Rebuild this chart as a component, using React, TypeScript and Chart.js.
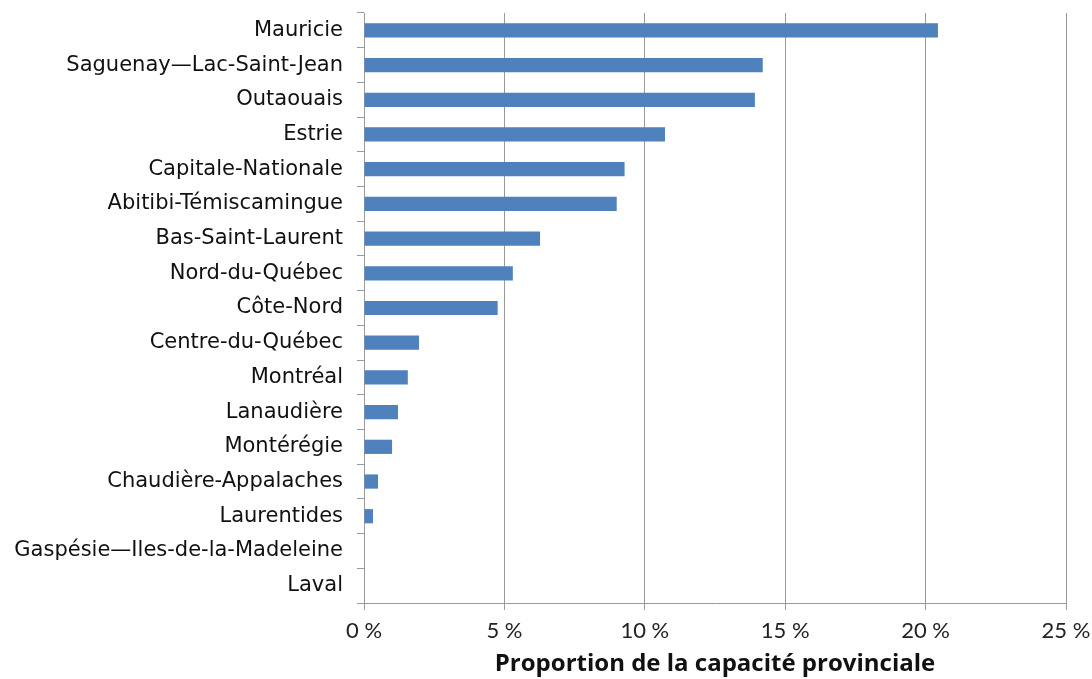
import React, { useEffect, useRef } from "react";
import { Chart, registerables } from "chart.js";

Chart.register(...registerables);

const categories = [
  "Mauricie",
  "Saguenay—Lac-Saint-Jean",
  "Outaouais",
  "Estrie",
  "Capitale-Nationale",
  "Abitibi-Témiscamingue",
  "Bas-Saint-Laurent",
  "Nord-du-Québec",
  "Côte-Nord",
  "Centre-du-Québec",
  "Montréal",
  "Lanaudière",
  "Montérégie",
  "Chaudière-Appalaches",
  "Laurentides",
  "Gaspésie—Iles-de-la-Madeleine",
  "Laval",
];

const values = [20.44, 14.2, 13.92, 10.72, 9.28, 9.0, 6.27, 5.3, 4.76, 1.96, 1.56, 1.21, 1.0, 0.5, 0.32, 0, 0];

const xTicks = [0, 5, 10, 15, 20, 25];
const xTitle = "Proportion de la capacité provinciale";

export default function App() {
  const ref = useRef<HTMLCanvasElement>(null);
  useEffect(() => {
    document.body.style.margin = "0";
    const ctx = ref.current!;
    const chart = new Chart(ctx, {
      type: "bar",
      data: {
        labels: categories,
        datasets: [
          {
            data: values,
            backgroundColor: "#4F81BD",
            borderWidth: 0,
            categoryPercentage: 1,
            barPercentage: 0.41,
          },
        ],
      },
      options: {
        indexAxis: "y",
        animation: false,
        responsive: false,
        maintainAspectRatio: false,
        layout: { padding: { top: 13, right: 26, left: 0, bottom: 0 } },
        plugins: { legend: { display: false }, tooltip: { enabled: false } },
        scales: {
          x: {
            min: 0,
            max: 25,
            afterBuildTicks: (scale: any) => {
              scale.ticks = xTicks.map((v) => ({ value: v }));
            },
            afterFit: (scale: any) => {
              scale.height = 76;
              scale.paddingLeft = 0;
              scale.paddingRight = 0;
            },
            grid: {
              color: "#9a9a9a",
              lineWidth: 1,
              tickLength: 7,
              drawTicks: true,
            },
            border: { display: true, color: "#9a9a9a" },
            ticks: {
              color: "#222",
              font: { family: "Lato", size: 22 },
              padding: 8,
              callback: (v: any) => `${v} %`,
            },
            title: {
              display: true,
              text: xTitle,
              color: "#111",
              font: { family: "Open Sans", size: 24, weight: "bold" },
              padding: { top: 0, bottom: 0 },
            },
          },
          y: {
            afterFit: (scale: any) => {
              scale.width = 364;
              scale.paddingTop = 0;
              scale.paddingBottom = 0;
            },
            grid: {
              offset: true,
              drawOnChartArea: false,
              drawTicks: true,
              tickLength: 7,
              color: "#9a9a9a",
            },
            border: { display: true, color: "#9a9a9a" },
            ticks: {
              color: "#111",
              font: { family: "DejaVu Sans", size: 21 },
              padding: 14,
              autoSkip: false,
            },
          },
        },
      },
    });
    return () => chart.destroy();
  }, []);
  return (
    <div style={{ position: "absolute", left: 0, top: 0, width: 1092, height: 679, background: "#fff" }}>
      <canvas ref={ref} width={1092} height={679} style={{ width: 1092, height: 679 }} />
    </div>
  );
}
